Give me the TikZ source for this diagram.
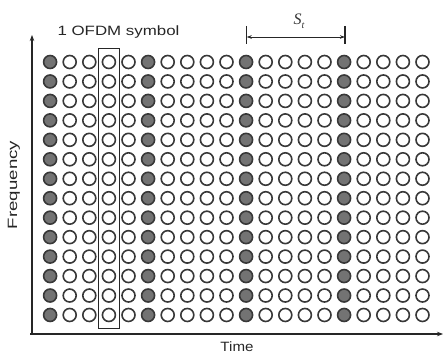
\documentclass[tikz,border=0pt]{standalone}
\usepackage{fontspec}
\setmainfont{Liberation Sans}
\newfontfamily\serifit{Liberation Serif}
\usetikzlibrary{arrows.meta,fit}
\begin{document}
\begin{tikzpicture}[x=1pt,y=-1pt,
  dot/.style={circle,draw=black!78,line width=1.6pt,minimum size=13pt,inner sep=0pt,fill=white},
  pilot/.style={dot,fill=black!55},
  lbl/.style={font=\fontsize{13.5}{15}\selectfont,inner sep=0pt,text=black!85},
  axis/.style={line width=1.2pt,draw=black!85,-{Stealth[length=6pt,width=4.5pt]}},
  thin/.style={line width=1.1pt,draw=black!85}
]
\useasboundingbox (0,0) rectangle (443,355);
\foreach \i in {0,...,19}{
  \foreach \j in {0,...,13}{
    \pgfmathtruncatemacro\m{mod(\i,5)}
    \ifnum\m=0
      \node[pilot] (c-\i-\j) at ({50.1+19.6*\i},{62+19.46*\j}) {};
    \else
      \node[dot] (c-\i-\j) at ({50.1+19.6*\i},{62+19.46*\j}) {};
    \fi
  }
}
% OFDM symbol box
\node[thin,draw,fit=(c-3-0)(c-3-13),inner xsep=3pt,inner ysep=6pt] (box) {};
% axes
\coordinate (o) at (32,334);
\coordinate (ytop) at (32,35);
\coordinate (xstart) at (30,334);
\coordinate (xend) at (443,334);
\draw[axis] (o) -- (ytop);
\draw[axis] (xstart) -- (xend);
% S_t marker
\coordinate (ta1) at (246.7,26);
\coordinate (tb1) at (246.7,44);
\coordinate (ta2) at (345,26);
\coordinate (tb2) at (345,44);
\coordinate (m1) at (246.7,37);
\coordinate (m2) at (345,37);
\draw[thin] (ta1) -- (tb1);
\draw[thin] (ta2) -- (tb2);
\draw[line width=0.9pt,draw=black!85,{Stealth[length=5pt,width=3.5pt]}-{Stealth[length=5pt,width=3.5pt]}] (m1) -- (m2);
\node[inner sep=0pt,text=black!80] (st) at (299,21) {\fontsize{16}{18}\selectfont\serifit\itshape S\raisebox{-0.25em}{\fontsize{10}{12}\selectfont t}};
% labels
\node[lbl] (ofdm) at (118.5,32) {\scalebox{1.25}[1]{1 OFDM symbol}};
\node[lbl] (time) at (237,347) {\scalebox{1.12}[1]{Time}};
\node[lbl,rotate=90] (freq) at (14,185) {\scalebox{1.38}[1]{Frequency}};
\end{tikzpicture}
\end{document}
